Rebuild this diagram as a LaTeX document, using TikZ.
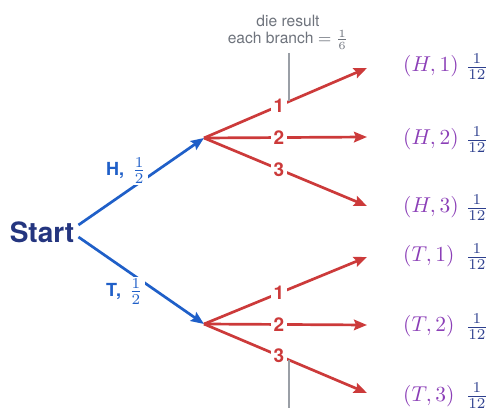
\RequirePackage{fix-cm}
\documentclass[tikz,border=0pt]{standalone}
\usepackage{graphicx}
\usepackage{fontspec}
\setsansfont{TeX Gyre Heros}
\usetikzlibrary{arrows.meta,calc}
\definecolor{cblue}{HTML}{1F5FC8}
\definecolor{cnavy}{HTML}{24357F}
\definecolor{cred}{HTML}{CC3A3A}
\definecolor{cpurple}{HTML}{8B3FB7}
\definecolor{cfrac}{HTML}{2D3F8E}
\definecolor{cgray}{HTML}{6E737C}
\definecolor{cline}{HTML}{9A9FA6}
\newcommand{\Smath}[1]{\scalebox{2.15}{\fontsize{10}{12}\selectfont$#1$}}
\begin{document}
\begin{tikzpicture}[x=1pt,y=-1pt,
  blu/.style={draw=cblue,line width=2.7pt,-{Stealth[length=13pt,width=10.5pt,inset=2pt]}},
  rd/.style={draw=cred,line width=2.7pt,-{Stealth[length=13pt,width=10.5pt,inset=2pt]}},
  rlab/.style={fill=white,text=cred,inner sep=2.5pt,font=\fontsize{19}{20}\selectfont\sffamily\bfseries},
  blab/.style={fill=white,text=cblue,inner sep=2pt,anchor=base west,font=\fontsize{18}{20}\selectfont\sffamily\bfseries},
  outc/.style={text=cpurple,inner sep=0pt,anchor=west},
  frc/.style={text=cfrac,inner sep=0pt},
  gl/.style={draw=cline,line width=1.2pt}]
\useasboundingbox (0,0) rectangle (488,411);
% start
\node[text=cnavy,inner sep=0pt,font=\fontsize{28}{30}\selectfont\sffamily\bfseries] (start) at (42,232) {Start};
\coordinate (H) at (204,138);
\coordinate (T) at (204,324);
% outcome end points
\coordinate (h1) at (367,68);
\coordinate (h2) at (367,137);
\coordinate (h3) at (367,206);
\coordinate (t1) at (367,257);
\coordinate (t2) at (367,325);
\coordinate (t3) at (367,393);
% blue branches
\draw[blu] ([shift={(4,-7)}]start.east) -- (H);
\draw[blu] ([shift={(4,5)}]start.east) -- (T);
\node[blab] (lh) at (104,176) {H,\hspace{8pt}\Smath{\frac{1}{2}}};
\node[blab] (lt) at (104,297) {T,\hspace{8pt}\Smath{\frac{1}{2}}};
% red branches
\draw[rd] (H) -- node[rlab,pos=0.46] (n1) {1} (h1);
\draw[rd] (H) -- node[rlab,pos=0.46] (n2) {2} (h2);
\draw[rd] (H) -- node[rlab,pos=0.46] (n3) {3} (h3);
\draw[rd] (T) -- node[rlab,pos=0.46] (m1) {1} (t1);
\draw[rd] (T) -- node[rlab,pos=0.46] (m2) {2} (t2);
\draw[rd] (T) -- node[rlab,pos=0.46] (m3) {3} (t3);
% top label and guide lines
\node[text=cgray,inner sep=0pt] (top) at (288,31) {\scalebox{2}{\fontsize{7.8}{9.8}\selectfont\sffamily\begin{tabular}{@{}c@{}}die result\\[-1pt] each branch $=$ $\frac{1}{6}$\end{tabular}}};
\coordinate (g1) at (289,101);
\coordinate (g2) at (289,360);
\coordinate (g3) at (289,408);
\draw[gl] (g1 |- 0,53) -- (g1);
\draw[gl] (g2) -- (g3);
% outcomes
\node[outc] (o1) at (403,66.5) {\Smath{(H,1)}};
\node[outc] (o2) at (403,139) {\Smath{(H,2)}};
\node[outc] (o3) at (403,207) {\Smath{(H,3)}};
\node[outc] (o4) at (403,256.5) {\Smath{(T,1)}};
\node[outc] (o5) at (403,326) {\Smath{(T,2)}};
\node[outc] (o6) at (403,396) {\Smath{(T,3)}};
\node[frc] (f1) at (477,67) {\Smath{\frac{1}{12}}};
\node[frc] (f2) at (477,140) {\Smath{\frac{1}{12}}};
\node[frc] (f3) at (477,208) {\Smath{\frac{1}{12}}};
\node[frc] (f4) at (477,257) {\Smath{\frac{1}{12}}};
\node[frc] (f5) at (477,327) {\Smath{\frac{1}{12}}};
\node[frc] (f6) at (477,396) {\Smath{\frac{1}{12}}};
\end{tikzpicture}
\end{document}
